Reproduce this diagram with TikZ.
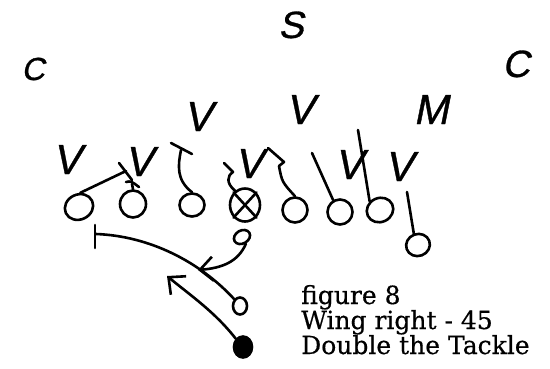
\documentclass[tikz,border=0pt]{standalone}
\usepackage{fontspec}
\setmainfont{DejaVu Serif}
\newfontfamily\hand[FakeBold=0.8,FakeSlant=0.2]{Liberation Sans}
\newfontfamily\capfont[FakeBold=0.5]{DejaVu Serif}
\usetikzlibrary{shapes.geometric,arrows.meta}
\tikzset{
  ink/.style={line width=2.6pt, line cap=round, line join=round, black},
  player/.style={ellipse, draw, ink, inner sep=0pt, minimum width=26pt, minimum height=24pt},
  letter/.style={font=\hand\fontsize{42}{42}\selectfont, inner sep=0pt, anchor=base},
  caption/.style={font=\capfont\fontsize{25}{25}\selectfont, inner sep=0pt, anchor=base west},
  barb/.style={-{Straight Barb[length=13pt,width=24pt]}}
}
\begin{document}
\begin{tikzpicture}[x=1pt,y=-1pt]
\useasboundingbox (0,0) rectangle (550,368);
% secondary
\node[letter,font=\hand\fontsize{38}{38}\selectfont] (s) at (291,38) {S};
\node[letter,font=\hand\fontsize{32}{32}\selectfont] (cl) at (33,80) {C};
\node[letter,font=\hand\fontsize{38}{38}\selectfont] (cr) at (516,77) {C};
\node[letter] (lb1) at (198,131) {V};
\node[letter] (lb2) at (300,124) {V};
\node[letter] (m) at (431,124) {M};
% defensive line
\node[letter] (d1) at (67,174) {V};
\node[letter] (d2) at (139,176) {V};
\node[letter] (d3) at (249,178) {V};
\node[letter] (d4) at (349,179) {V};
\node[letter] (d5) at (399,181) {V};
% offense
\node[player, rotate=25, minimum width=29pt, minimum height=25pt] (o1) at (79,207) {};
\node[player, minimum width=26pt, minimum height=27pt] (o2) at (133,204) {};
\node[player, minimum width=25pt, minimum height=23pt] (o3) at (192,205) {};
\node[player, minimum width=30pt, minimum height=33pt] (c) at (245,205) {};
\draw[ink] (c.north west) -- (c.south east) (c.north east) -- (c.south west);
\node[player, minimum width=25pt, minimum height=25pt] (o5) at (295,210) {};
\node[player, minimum width=25pt, minimum height=25pt] (o6) at (340,212) {};
\node[player, rotate=25, minimum width=27pt, minimum height=24pt] (o7) at (380,210) {};
\node[player, rotate=20, minimum width=24pt, minimum height=22pt] (o8) at (418,245) {};
\node[player, rotate=30, minimum width=17pt, minimum height=13pt] (qb) at (242,237) {};
\node[player, minimum width=14pt, minimum height=17pt] (hb) at (240,306) {};
\node[player, fill=black, minimum width=18pt, minimum height=21pt] (bc) at (243,347) {};
% blocking assignments
\coordinate (b1) at (126,171);
\draw[ink] (o1.60) -- (b1);
\draw[ink] (119,163) -- (132,180);
\coordinate (b2) at (132,184);
\draw[ink] (o2.north) -- (b2);
\draw[ink] (126,182) .. controls (131,181) .. (139,187);
\coordinate (b3) at (181,150);
\draw[ink] (o3.north) .. controls (176,180) and (178,165) .. (b3);
\draw[ink] (171,143) -- (192,154);
\coordinate (bc1) at (224,163);
\draw[ink] (c.125) .. controls (226,183) and (227,176) .. (233,172) -- (bc1);
\coordinate (b5) at (268,148);
\draw[ink] (o5.north) .. controls (282,182) .. (279,166) -- (284,162) -- (b5);
\coordinate (b6) at (312,153);
\draw[ink] (o6.120) -- (b6);
\coordinate (b7) at (358,130);
\draw[ink] (o7.115) -- (b7);
\coordinate (b8) at (407,192);
\draw[ink] (o8.north) -- (b8);
% backfield action
\coordinate (tb) at (96,234);
\draw[ink] (95,225) -- (95,248);
\draw[ink] (tb) .. controls (150,236) and (200,262) .. (hb.north west);
\coordinate (qbt) at (198,270);
\draw[ink,barb] (qb.south) .. controls (238,262) and (222,268) .. (qbt);
\coordinate (bct) at (167,276);
\draw[ink,barb] (bc.north west) .. controls (215,312) and (190,295) .. (bct);
% caption
\node[caption] (t1) at (301,304) {figure 8};
\node[caption] (t2) at (301,329) {Wing right - 45};
\node[caption] (t3) at (301,354) {Double the Tackle};
\end{tikzpicture}
\end{document}
